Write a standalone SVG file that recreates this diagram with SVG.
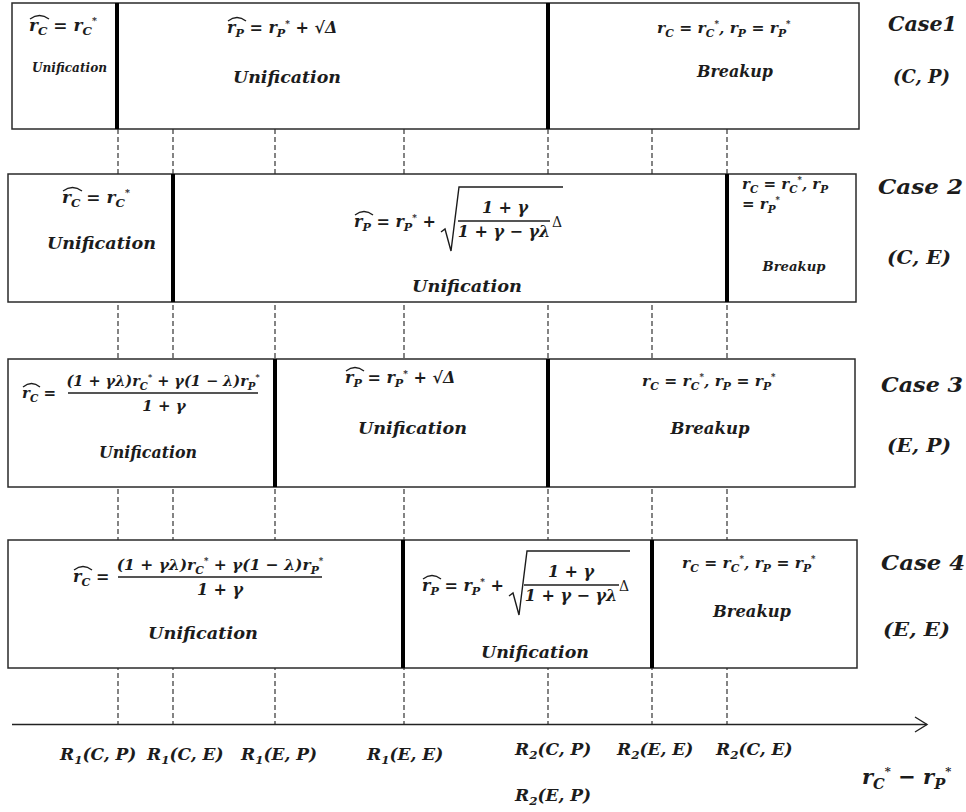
<svg xmlns="http://www.w3.org/2000/svg" width="966" height="812" viewBox="0 0 966 812">
<defs>
<style>
.box{fill:#fff;stroke:#2a2a2a;stroke-width:1.5}
.div{stroke:#000;stroke-width:4}
.dash{stroke:#333;stroke-width:1.2;stroke-dasharray:5 3;fill:none}
.axis{stroke:#222;stroke-width:1.4;fill:none}
.m{font-family:"DejaVu Serif","Liberation Serif",serif;font-weight:bold;font-style:italic;fill:#1c1c1c}
.s{font-size:70%}
.t{font-size:55%}
.d{font-family:"DejaVu Serif","Liberation Serif",serif;font-weight:normal;font-style:normal;fill:#1c1c1c}
.hat{fill:none;stroke:#1c1c1c;stroke-width:1.3}
.rad{fill:none;stroke:#1c1c1c;stroke-width:1.4}
.frac{stroke:#1c1c1c;stroke-width:1.3}
</style>
<marker id="arr" markerWidth="16" markerHeight="18" refX="13" refY="9" orient="auto" markerUnits="userSpaceOnUse">
<path d="M1,1.5 L13,9 L1,16.5" fill="none" stroke="#222" stroke-width="1.4"/>
</marker>
</defs>
<rect width="966" height="812" fill="#fff"/>

<g id="connectors">
<line class="dash" x1="118" y1="129" x2="118" y2="724"/>
<line class="dash" x1="173" y1="129" x2="173" y2="724"/>
<line class="dash" x1="275" y1="129" x2="275" y2="724"/>
<line class="dash" x1="404" y1="129" x2="404" y2="724"/>
<line class="dash" x1="548" y1="129" x2="548" y2="724"/>
<line class="dash" x1="652" y1="129" x2="652" y2="724"/>
<line class="dash" x1="727" y1="129" x2="727" y2="724"/>
<line id="axis" class="axis" x1="12" y1="724.5" x2="927" y2="724.5" marker-end="url(#arr)"/>
</g>

<g id="case1">
<rect class="box" x="12" y="3" width="847" height="126"/>
<line class="div" x1="117" y1="3" x2="117" y2="129"/>
<line class="div" x1="548" y1="3" x2="548" y2="129"/>
<text class="m" x="29" y="31" font-size="17">r<tspan class="s" dy="4">C</tspan><tspan dy="-4"> = r</tspan><tspan class="s" dy="4">C</tspan><tspan class="t" dy="-11">*</tspan></text>
<path class="hat" d="M30,19 Q39.5,12 49,19"/>
<text class="m" x="69.5" y="72" font-size="12" text-anchor="middle" textLength="75" lengthAdjust="spacingAndGlyphs">Unification</text>
<text class="m" x="227" y="33" font-size="16">r<tspan class="s" dy="4">P</tspan><tspan dy="-4"> = r</tspan><tspan class="s" dy="4">P</tspan><tspan class="t" dy="-10">*</tspan><tspan dy="6"> + √Δ</tspan></text>
<path class="hat" d="M228,21 Q237,14 246,21"/>
<text class="m" x="287" y="83" font-size="17.5" text-anchor="middle" textLength="108" lengthAdjust="spacingAndGlyphs">Unification</text>
<text class="m" x="657" y="33" font-size="15.5">r<tspan class="s" dy="4">C</tspan><tspan dy="-4"> = r</tspan><tspan class="s" dy="4">C</tspan><tspan class="t" dy="-10">*</tspan><tspan dy="6">, r</tspan><tspan class="s" dy="4">P</tspan><tspan dy="-4"> = r</tspan><tspan class="s" dy="4">P</tspan><tspan class="t" dy="-10">*</tspan></text>
<text class="m" x="735" y="77" font-size="17" text-anchor="middle" textLength="76" lengthAdjust="spacingAndGlyphs">Breakup</text>
<text class="m" x="888" y="31" font-size="20" textLength="69" lengthAdjust="spacingAndGlyphs">Case1</text>
<text class="m" x="893" y="83" font-size="19" textLength="57" lengthAdjust="spacingAndGlyphs">(C, P)</text>
</g>

<g id="case2">
<rect class="box" x="8" y="174" width="848" height="128"/>
<line class="div" x1="173" y1="174" x2="173" y2="302"/>
<line class="div" x1="727" y1="174" x2="727" y2="302"/>
<text class="m" x="62" y="203" font-size="17">r<tspan class="s" dy="4">C</tspan><tspan dy="-4"> = r</tspan><tspan class="s" dy="4">C</tspan><tspan class="t" dy="-11">*</tspan></text>
<path class="hat" d="M63,191 Q72.5,184 82,191"/>
<text class="m" x="101.5" y="249" font-size="17.5" text-anchor="middle" textLength="109" lengthAdjust="spacingAndGlyphs">Unification</text>
<text class="m" x="354" y="227" font-size="16">r<tspan class="s" dy="4">P</tspan><tspan dy="-4"> = r</tspan><tspan class="s" dy="4">P</tspan><tspan class="t" dy="-10">*</tspan><tspan dy="6"> +</tspan></text>
<path class="hat" d="M355,215 Q364,208 373,215"/>
<path class="rad" d="M441,232 L445,229 L451,251 L459,187 L563,187"/>
<text class="m" x="505" y="213" font-size="16" text-anchor="middle">1 + γ</text>
<line class="frac" x1="458" y1="221" x2="550" y2="221"/>
<text class="m" x="504" y="237" font-size="16" text-anchor="middle">1 + γ − γλ</text>
<text class="d" x="552" y="227" font-size="14">Δ</text>
<text class="m" x="467" y="292" font-size="17.5" text-anchor="middle" textLength="110" lengthAdjust="spacingAndGlyphs">Unification</text>
<text class="m" x="742" y="189" font-size="15">r<tspan class="s" dy="4">C</tspan><tspan dy="-4"> = r</tspan><tspan class="s" dy="4">C</tspan><tspan class="t" dy="-10">*</tspan><tspan dy="6">, r</tspan><tspan class="s" dy="4">P</tspan></text>
<text class="m" x="742" y="209" font-size="15">= r<tspan class="s" dy="4">P</tspan><tspan class="t" dy="-10">*</tspan></text>
<text class="m" x="794" y="271" font-size="13" text-anchor="middle" textLength="63" lengthAdjust="spacingAndGlyphs">Breakup</text>
<text class="m" x="878" y="194" font-size="20" textLength="85" lengthAdjust="spacingAndGlyphs">Case 2</text>
<text class="m" x="887" y="264" font-size="19" textLength="64" lengthAdjust="spacingAndGlyphs">(C, E)</text>
</g>

<g id="case3">
<rect class="box" x="8" y="359" width="847" height="128"/>
<line class="div" x1="275" y1="359" x2="275" y2="487"/>
<line class="div" x1="548" y1="359" x2="548" y2="487"/>
<text class="m" x="22" y="398" font-size="15">r<tspan class="s" dy="4">C</tspan><tspan dy="-4"> =</tspan></text>
<path class="hat" d="M23,387 Q31.5,380 40,387"/>
<text class="m" x="163" y="386" font-size="14.5" text-anchor="middle">(1 + γλ)r<tspan class="s" dy="4">C</tspan><tspan class="t" dy="-10">*</tspan><tspan dy="6"> + γ(1 − λ)r</tspan><tspan class="s" dy="4">P</tspan><tspan class="t" dy="-10">*</tspan></text>
<line class="frac" x1="68" y1="393" x2="258" y2="393"/>
<text class="m" x="164" y="411" font-size="15" text-anchor="middle">1 + γ</text>
<text class="m" x="148" y="458" font-size="16" text-anchor="middle" textLength="98" lengthAdjust="spacingAndGlyphs">Unification</text>
<text class="m" x="345" y="383" font-size="16">r<tspan class="s" dy="4">P</tspan><tspan dy="-4"> = r</tspan><tspan class="s" dy="4">P</tspan><tspan class="t" dy="-10">*</tspan><tspan dy="6"> + √Δ</tspan></text>
<path class="hat" d="M346,371 Q355,364 364,371"/>
<text class="m" x="412.5" y="434" font-size="17.5" text-anchor="middle" textLength="109" lengthAdjust="spacingAndGlyphs">Unification</text>
<text class="m" x="642" y="386" font-size="15.5">r<tspan class="s" dy="4">C</tspan><tspan dy="-4"> = r</tspan><tspan class="s" dy="4">C</tspan><tspan class="t" dy="-10">*</tspan><tspan dy="6">, r</tspan><tspan class="s" dy="4">P</tspan><tspan dy="-4"> = r</tspan><tspan class="s" dy="4">P</tspan><tspan class="t" dy="-10">*</tspan></text>
<text class="m" x="710" y="434" font-size="17" text-anchor="middle" textLength="79" lengthAdjust="spacingAndGlyphs">Breakup</text>
<text class="m" x="881" y="392" font-size="20" textLength="82" lengthAdjust="spacingAndGlyphs">Case 3</text>
<text class="m" x="887" y="452" font-size="19" textLength="64" lengthAdjust="spacingAndGlyphs">(E, P)</text>
</g>

<g id="case4">
<rect class="box" x="8" y="540" width="849" height="128"/>
<line class="div" x1="403" y1="540" x2="403" y2="668"/>
<line class="div" x1="652" y1="540" x2="652" y2="668"/>
<text class="m" x="73" y="582" font-size="16">r<tspan class="s" dy="4">C</tspan><tspan dy="-4"> =</tspan></text>
<path class="hat" d="M74,570 Q83,563 92,570"/>
<text class="m" x="220" y="570" font-size="15.5" text-anchor="middle">(1 + γλ)r<tspan class="s" dy="4">C</tspan><tspan class="t" dy="-10">*</tspan><tspan dy="6"> + γ(1 − λ)r</tspan><tspan class="s" dy="4">P</tspan><tspan class="t" dy="-10">*</tspan></text>
<line class="frac" x1="118" y1="577" x2="322" y2="577"/>
<text class="m" x="220" y="595" font-size="16" text-anchor="middle">1 + γ</text>
<text class="m" x="203" y="639" font-size="17.5" text-anchor="middle" textLength="110" lengthAdjust="spacingAndGlyphs">Unification</text>
<text class="m" x="422" y="591" font-size="16">r<tspan class="s" dy="4">P</tspan><tspan dy="-4"> = r</tspan><tspan class="s" dy="4">P</tspan><tspan class="t" dy="-10">*</tspan><tspan dy="6"> +</tspan></text>
<path class="hat" d="M423,579 Q432,572 441,579"/>
<path class="rad" d="M509,596 L513,593 L519,615 L527,551 L630,551"/>
<text class="m" x="571" y="577" font-size="16" text-anchor="middle">1 + γ</text>
<line class="frac" x1="524" y1="585" x2="619" y2="585"/>
<text class="m" x="571" y="601" font-size="16" text-anchor="middle">1 + γ − γλ</text>
<text class="d" x="619" y="591" font-size="14">Δ</text>
<text class="m" x="535" y="658" font-size="17.5" text-anchor="middle" textLength="108" lengthAdjust="spacingAndGlyphs">Unification</text>
<text class="m" x="682" y="568" font-size="15.5">r<tspan class="s" dy="4">C</tspan><tspan dy="-4"> = r</tspan><tspan class="s" dy="4">C</tspan><tspan class="t" dy="-10">*</tspan><tspan dy="6">, r</tspan><tspan class="s" dy="4">P</tspan><tspan dy="-4"> = r</tspan><tspan class="s" dy="4">P</tspan><tspan class="t" dy="-10">*</tspan></text>
<text class="m" x="752" y="617" font-size="17" text-anchor="middle" textLength="78" lengthAdjust="spacingAndGlyphs">Breakup</text>
<text class="m" x="881" y="570" font-size="20" textLength="84" lengthAdjust="spacingAndGlyphs">Case 4</text>
<text class="m" x="883" y="636" font-size="19" textLength="67" lengthAdjust="spacingAndGlyphs">(E, E)</text>
</g>

<g id="axis-labels">
<text class="m" x="60" y="760" font-size="17">R<tspan class="s" dy="4">1</tspan><tspan dy="-4">(C, P)</tspan></text>
<text class="m" x="147" y="760" font-size="17">R<tspan class="s" dy="4">1</tspan><tspan dy="-4">(C, E)</tspan></text>
<text class="m" x="241" y="760" font-size="17">R<tspan class="s" dy="4">1</tspan><tspan dy="-4">(E, P)</tspan></text>
<text class="m" x="367" y="760" font-size="17">R<tspan class="s" dy="4">1</tspan><tspan dy="-4">(E, E)</tspan></text>
<text class="m" x="515" y="755" font-size="17">R<tspan class="s" dy="4">2</tspan><tspan dy="-4">(C, P)</tspan></text>
<text class="m" x="617" y="755" font-size="17">R<tspan class="s" dy="4">2</tspan><tspan dy="-4">(E, E)</tspan></text>
<text class="m" x="716" y="755" font-size="17">R<tspan class="s" dy="4">2</tspan><tspan dy="-4">(C, E)</tspan></text>
<text class="m" x="515" y="801" font-size="17">R<tspan class="s" dy="4">2</tspan><tspan dy="-4">(E, P)</tspan></text>
<text class="m" x="862" y="784" font-size="21">r<tspan class="s" dy="5">C</tspan><tspan class="t" dy="-14">*</tspan><tspan dy="9"> − r</tspan><tspan class="s" dy="5">P</tspan><tspan class="t" dy="-14">*</tspan></text>
</g>
</svg>
